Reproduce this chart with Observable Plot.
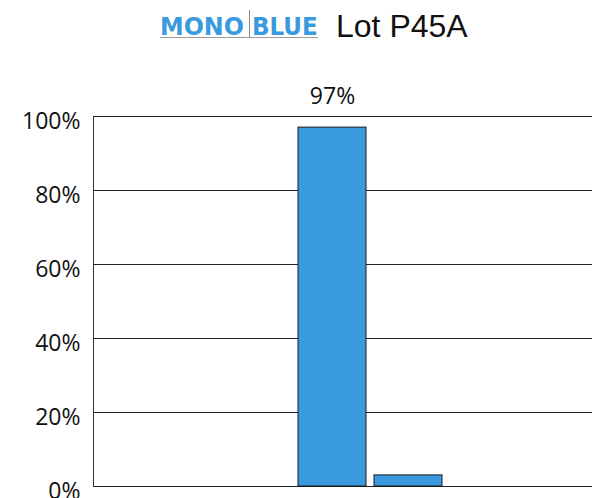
<!DOCTYPE html>
<html><head><meta charset="utf-8">
<script src="https://cdn.jsdelivr.net/npm/d3@7"></script>
<script src="https://cdn.jsdelivr.net/npm/@observablehq/plot@0.6"></script>
<style>
html,body{margin:0;padding:0;background:#fff;overflow:hidden;width:592px;height:498px}
#title{position:relative;height:60px;width:592px}
.logo{position:absolute;left:160px;top:10px;width:158px;height:27px;border-bottom:1px solid #9a9a9a;font-family:"DejaVu Sans",sans-serif;font-weight:bold;color:#3a9ade;font-size:25px;line-height:25px}
.logo .m{position:absolute;left:0;top:4px;display:block;transform:scale(0.95,1.0);transform-origin:left top;white-space:nowrap}
.logo .sep{position:absolute;left:89px;top:0;width:1px;height:28px;background:#888}
.logo .b{position:absolute;left:92px;top:4px;display:block;transform:scale(0.92,1.0);transform-origin:left top;white-space:nowrap}
.lot{position:absolute;left:336px;top:8px;font-family:"Liberation Sans",Arial,sans-serif;font-size:32px;color:#111;white-space:nowrap}
</style></head>
<body>
<div id="title">
  <div class="logo"><span class="m">MONO</span><span class="sep"></span><span class="b">BLUE</span></div>
  <div class="lot">Lot P45A</div>
</div>
<div id="chart"></div>
<script>
const categories = ["A", "B", "C", "D", "E", "F"];
const values = [0, 0, 97, 3, 0, 0];
const yTicks = [0, 20, 40, 60, 80, 100];

const data = categories.map((c, i) => ({category: c, value: values[i]}));

const chart = Plot.plot({
  width: 592,
  height: 470,
  marginTop: 56,
  marginLeft: 93,
  marginRight: 0,
  marginBottom: 44,
  x: {domain: categories, range: [93, 648], paddingInner: 0.1, paddingOuter: 0.68, axis: null},
  y: {domain: [0, 100], label: null},
  style: {fontFamily: "Open Sans", fontSize: "23px", color: "#111", background: "#fff"},
  marks: [
    Plot.ruleY(yTicks, {stroke: "#222", strokeWidth: 1}),
    Plot.frame({anchor: "left", stroke: "#333"}),
    Plot.axisY(yTicks, {tickSize: 0, tickPadding: 13, tickFormat: d => d + "%", dy: 5, fontSize: 23, fill: "#111", label: null}),
    Plot.barY(data, {filter: d => d.value > 0, x: "category", y: "value", fill: "#3a9ade", stroke: "#1a1a1a", strokeWidth: 1}),
    Plot.text(data, {filter: d => d.value >= 50, x: "category", y: "value", text: d => d.value + "%", dy: -31, fontSize: 23, fill: "#111"})
  ]
});
document.getElementById("chart").append(chart);
</script>
</body></html>
